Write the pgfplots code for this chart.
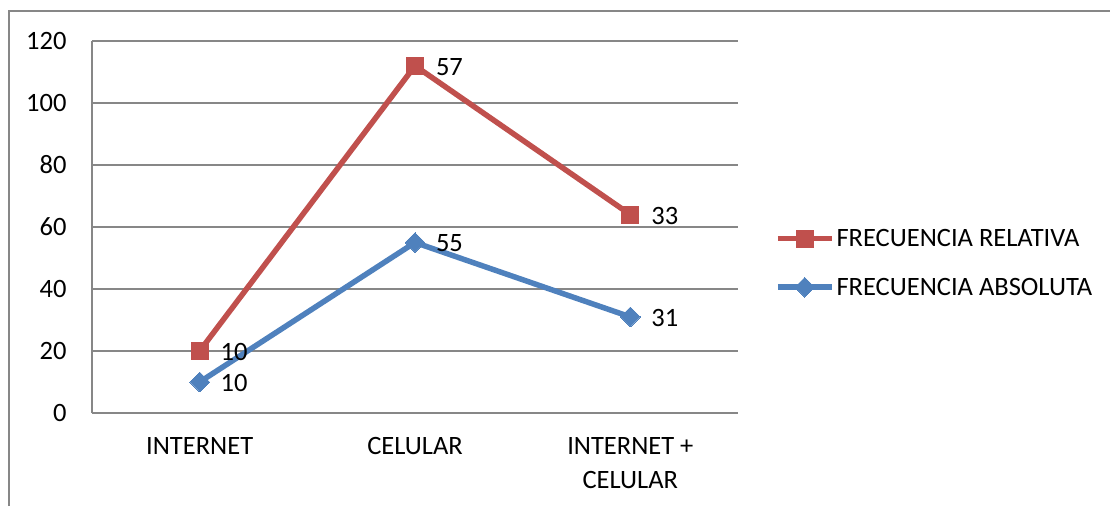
\documentclass[border=0pt]{standalone}
\usepackage{pgfplots}
\pgfplotsset{compat=1.18}
\usepackage{fontspec}
\setmainfont{Carlito}
\definecolor{rojo}{HTML}{C0504D}
\definecolor{azul}{HTML}{4F81BD}
\definecolor{grisl}{HTML}{878787}
\begin{document}
\begin{tikzpicture}
\path[use as bounding box] (0pt,0pt) rectangle (1110pt,506pt);
\draw[grisl, line width=2pt] (9pt,0pt) -- (9pt,495pt) -- (1110pt,495pt);
\begin{axis}[
  at={(92pt,93pt)}, anchor=south west, scale only axis,
  width=646pt, height=372pt,
  xmin=-0.5, xmax=2.5, ymin=0, ymax=120,
  xtick={0,1,2}, xticklabels={INTERNET,CELULAR,{INTERNET +\\CELULAR}},
  ytick={0,20,...,120},
  x tick label style={align=center, font=\fontsize{26.5}{34}\selectfont, yshift=-21pt},
  y tick label style={font=\fontsize{26.5}{30}\selectfont, xshift=-22pt},
  /pgf/number format/assume math mode=true,
  major tick length=0pt,
  axis lines=left, axis line style={-, grisl, line width=2pt},
  ymajorgrids, grid style={grisl, line width=1.6pt},
  stack plots=y,
  point meta=explicit,
  nodes near coords,
  every node near coord/.append style={anchor=west, xshift=21pt, yshift=-1pt, inner sep=0pt, font=\fontsize{26.5}{30}\selectfont, text=black},
  reverse legend,
  legend style={at={(1.057,0.50)}, anchor=north west, draw=none, fill=none,
    font=\fontsize{26.5}{30}\selectfont, row sep=26pt, inner sep=0pt,
    /tikz/every even column/.append style={column sep=4pt}},
  legend cell align=left,
  legend image code/.code={
    \draw[#1, mark repeat=2, mark phase=2] plot coordinates {(0pt,0pt) (27pt,0pt) (54pt,0pt)};
  },
]
\addplot[azul, line width=5.5pt, mark=square*, mark size=7pt, mark options={solid, rotate=45, fill=azul, draw=azul, line width=0pt}]
  coordinates {(0,10) [10] (1,55) [55] (2,31) [31]};
\addlegendentry{FRECUENCIA ABSOLUTA}
\addplot[rojo, line width=5.5pt, mark=square*, mark size=8.5pt, mark options={solid, fill=rojo, draw=rojo, line width=0pt}]
  coordinates {(0,10) [10] (1,57) [57] (2,33) [33]};
\addlegendentry{FRECUENCIA RELATIVA}
\end{axis}
\end{tikzpicture}
\end{document}
